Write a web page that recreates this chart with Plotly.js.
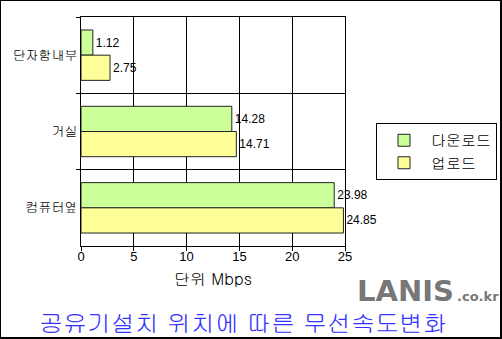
<!DOCTYPE html>
<html>
<head>
<meta charset="utf-8">
<script src="https://cdn.plot.ly/plotly-3.0.1.min.js"></script>
<style>
  html, body { margin: 0; padding: 0; background: #fff; }
  #wrap { position: relative; width: 502px; height: 339px; }
  #chart { position: absolute; left: 0; top: 0; width: 502px; height: 339px; }
  #frame { position: absolute; left: 0; top: 0; width: 502px; height: 339px; box-sizing: border-box;
           border: 1px solid #000; border-right-width: 2px; border-bottom-width: 2px; pointer-events: none; }
</style>
</head>
<body>
<div id="wrap"><div id="chart"></div><div id="frame"></div></div>
<script>
const categories = ["단자함내부", "거실", "컴퓨터옆"];
const seriesNames = ["다운로드", "업로드"];
const downloadValues = [1.12, 14.28, 23.98];
const uploadValues = [2.75, 14.71, 24.85];
const xTickValues = [0, 5, 10, 15, 20, 25];
const xAxisTitle = "단위 Mbps";
const chartTitle = "공유기설치 위치에 따른 무선속도변화";
const logoMain = "LANIS";
const logoSub = ".co.kr";

const FONT = "Gulim, Dotum, 'Noto Sans CJK KR', sans-serif";
const NUMFONT = "'Liberation Sans', Arial, sans-serif";
const LOGOFONT = "'DejaVu Sans', Verdana, sans-serif";

const traces = [
  {
    type: "bar", orientation: "h", name: seriesNames[0],
    y: categories, x: downloadValues,
    text: downloadValues.map(v => v.toFixed(2)), textposition: "outside",
    textfont: { family: NUMFONT, size: 12, color: "#000" },
    cliponaxis: false,
    marker: { color: "#ccff99", line: { color: "#222", width: 1 } },
    hoverinfo: "none"
  },
  {
    type: "bar", orientation: "h", name: seriesNames[1],
    y: categories, x: uploadValues,
    text: uploadValues.map(v => v.toFixed(2)), textposition: "outside",
    textfont: { family: NUMFONT, size: 12, color: "#000" },
    cliponaxis: false,
    marker: { color: "#ffff99", line: { color: "#222", width: 1 } },
    hoverinfo: "none"
  }
];

const px = v => (v - 81) / 264;
const py = v => (246 - v) / 229;

const layout = {
  width: 502, height: 339,
  margin: { l: 81, r: 157, t: 17, b: 93, pad: 0 },
  paper_bgcolor: "#fff", plot_bgcolor: "#fff",
  font: { family: FONT, size: 13, color: "#000" },
  barmode: "group", bargap: 0.34, bargroupgap: 0,
  showlegend: true,
  legend: {
    xref: "container", yref: "container",
    x: 376 / 502, xanchor: "left", y: 1 - 123 / 339, yanchor: "top",
    bgcolor: "#fff", bordercolor: "#000", borderwidth: 1,
    font: { family: FONT, size: 15, color: "#000" },
    traceorder: "normal", itemwidth: 44, entrywidth: 79, tracegroupgap: 0
  },
  xaxis: {
    range: [0, 25], tickvals: xTickValues, ticktext: xTickValues.map(String),
    showgrid: true, gridcolor: "#000", gridwidth: 1,
    showline: true, linecolor: "#000", linewidth: 1, mirror: true,
    ticks: "outside", ticklen: 4, tickcolor: "#000",
    ticklabelstandoff: -6,
    zeroline: false,
    tickfont: { family: NUMFONT, size: 13, color: "#000" }
  },
  yaxis: {
    type: "category", range: [2.5, -0.5], autorange: false,
    tickson: "boundaries", showgrid: true, gridcolor: "#000", gridwidth: 1,
    showline: true, linecolor: "#000", linewidth: 1, mirror: true,
    ticks: "outside", ticklen: 4, tickcolor: "#000",
    tickfont: { family: FONT, size: 13, color: "#000" },
    automargin: false
  },
  annotations: [
    { xref: "paper", yref: "paper", x: px(213), y: py(278),
      text: xAxisTitle, showarrow: false, xanchor: "center", yanchor: "middle",
      font: { family: FONT, size: 16, color: "#000" } },
    { xref: "paper", yref: "paper", x: px(243), y: py(322),
      text: chartTitle, showarrow: false, xanchor: "center", yanchor: "middle",
      font: { family: FONT, size: 24, color: "#3333ff" } },
    { xref: "paper", yref: "paper", x: px(456), y: py(291),
      text: "<b>" + logoMain + "</b>", showarrow: false, xanchor: "right", yanchor: "middle",
      font: { family: LOGOFONT, size: 29, color: "#777777" } },
    { xref: "paper", yref: "paper", x: px(455), y: py(296),
      text: "<b>" + logoSub + "</b>", showarrow: false, xanchor: "left", yanchor: "middle",
      font: { family: LOGOFONT, size: 13, color: "#777777" } }
  ]
};

Plotly.newPlot("chart", traces, layout, { staticPlot: true, displayModeBar: false });
</script>
</body>
</html>
